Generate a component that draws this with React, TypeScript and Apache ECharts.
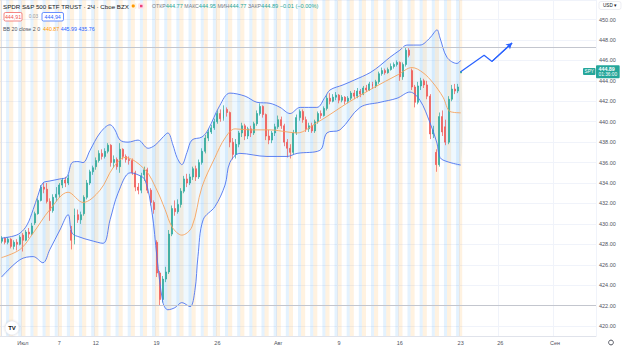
import React, { useEffect, useRef } from "react";
import * as echarts from "echarts";

// ---- data (2-hour bars, 4 per session day) ----
// [open, close, low, high]
const candles: number[][] = [
  [428.3, 428.6, 428.1, 428.8], [428.6, 428.2, 428.0, 428.7], [428.2, 428.5, 428.0, 428.7],
  [428.5, 427.8, 427.6, 428.6], [427.8, 428.2, 427.5, 428.4], [428.2, 428.0, 427.4, 428.5], [428.0, 428.7, 427.9, 428.9],
  [428.9, 428.4, 427.3, 429.1], [428.4, 429.2, 428.3, 429.4], [429.2, 429.0, 428.6, 429.6], [429.0, 429.8, 428.9, 430.1],
  [430.1, 431.0, 429.9, 431.2], [431.0, 432.3, 430.9, 432.5], [432.3, 433.6, 432.2, 433.8], [433.6, 433.4, 433.0, 434.0],
  [433.4, 432.2, 432.0, 434.0], [432.2, 431.3, 430.3, 432.5], [431.3, 432.6, 431.1, 432.9], [432.6, 432.9, 432.2, 433.6],
  [432.9, 433.8, 432.6, 434.0], [433.8, 434.3, 433.5, 434.5], [434.3, 434.0, 433.6, 434.6], [434.0, 434.5, 433.8, 434.8],
  [429.4, 428.4, 427.5, 429.8], [428.4, 430.9, 428.0, 431.5], [430.9, 430.4, 430.1, 431.4], [430.4, 430.9, 430.0, 431.2],
  [431.0, 432.6, 430.8, 432.8], [432.6, 434.0, 432.4, 434.3], [434.0, 435.1, 433.8, 435.3], [435.1, 435.5, 434.8, 435.7],
  [435.6, 436.2, 435.3, 436.5], [436.2, 436.9, 436.0, 437.2], [436.9, 436.6, 436.3, 437.3], [436.6, 437.1, 436.4, 437.4],
  [437.1, 437.7, 436.9, 437.9], [437.7, 436.0, 435.6, 437.8], [436.0, 436.3, 435.5, 436.7], [436.3, 435.6, 435.3, 436.5],
  [435.6, 437.3, 435.0, 437.9], [437.3, 436.6, 436.3, 437.4], [436.6, 436.3, 436.0, 436.8], [436.3, 436.2, 435.8, 436.6],
  [436.2, 435.0, 434.8, 436.4], [435.0, 433.6, 433.2, 435.2], [433.6, 433.3, 432.9, 434.0], [433.3, 434.7, 433.0, 435.0],
  [434.8, 435.3, 434.2, 435.6], [435.3, 433.3, 433.0, 435.5], [433.3, 432.1, 431.8, 433.5], [432.1, 431.4, 431.0, 432.3],
  [428.2, 425.2, 424.8, 428.4], [425.2, 422.6, 422.0, 425.4], [422.6, 424.6, 422.3, 424.9], [424.6, 425.3, 424.3, 425.8],
  [425.3, 429.0, 425.1, 429.4], [429.0, 431.5, 428.8, 431.8], [431.5, 431.2, 430.8, 432.3], [431.2, 431.9, 431.0, 432.4],
  [431.9, 433.2, 431.6, 433.5], [433.2, 434.4, 433.0, 434.7], [434.4, 434.0, 433.6, 434.9], [434.0, 434.6, 433.8, 434.9],
  [434.6, 435.4, 434.3, 435.6], [435.4, 434.6, 434.2, 435.7], [434.6, 436.0, 434.4, 436.3], [436.0, 437.1, 435.8, 437.4],
  [437.1, 438.4, 436.9, 438.7], [438.4, 439.0, 438.1, 439.3], [439.0, 439.4, 438.8, 439.7], [439.4, 440.0, 439.2, 440.3],
  [440.0, 440.8, 439.8, 441.1], [440.8, 440.3, 440.0, 441.2], [440.3, 441.2, 440.1, 441.6], [441.2, 440.9, 440.5, 441.4],
  [440.9, 438.0, 437.5, 441.0], [438.0, 436.8, 436.3, 438.4], [436.8, 437.8, 436.4, 438.3], [437.8, 438.9, 437.5, 439.1],
  [438.9, 439.6, 438.5, 439.9], [439.6, 438.6, 438.2, 439.8], [438.6, 439.3, 438.3, 439.5], [439.3, 438.9, 438.5, 439.6],
  [438.9, 439.8, 438.7, 440.0], [439.8, 440.8, 439.6, 441.1], [440.8, 441.5, 440.6, 441.8], [441.5, 440.7, 440.4, 441.6],
  [440.7, 438.6, 438.2, 440.8], [438.6, 438.2, 437.8, 439.2], [438.2, 438.9, 437.9, 439.1], [438.9, 439.5, 438.6, 439.8],
  [439.5, 440.2, 439.3, 440.6], [440.2, 439.6, 439.3, 440.5], [439.6, 438.0, 437.6, 439.8], [438.0, 437.4, 436.5, 438.3],
  [437.4, 437.0, 436.4, 437.8], [437.0, 438.9, 436.8, 439.2], [438.9, 440.4, 438.7, 440.7], [440.4, 441.0, 440.1, 441.2],
  [441.0, 440.2, 439.9, 441.2], [440.2, 439.3, 439.0, 440.5], [439.3, 439.6, 439.0, 439.9], [439.6, 439.1, 438.9, 439.9],
  [439.1, 440.0, 438.9, 440.2], [440.0, 440.8, 439.8, 441.0], [440.8, 440.6, 440.3, 441.1], [440.6, 441.3, 440.5, 441.5],
  [441.3, 442.3, 441.1, 442.6], [442.3, 442.0, 441.7, 442.8], [442.0, 442.4, 441.9, 442.7], [442.4, 442.6, 442.1, 442.9],
  [442.6, 442.1, 441.8, 442.7], [442.1, 442.4, 441.9, 442.6], [442.4, 442.0, 441.7, 442.5], [442.0, 442.3, 441.8, 442.5],
  [442.3, 442.8, 442.1, 443.0], [442.8, 442.5, 442.2, 443.1], [442.5, 443.0, 442.3, 443.3], [443.0, 442.7, 442.4, 443.2],
  [442.7, 443.3, 442.6, 443.5], [443.3, 443.1, 442.9, 443.6], [443.1, 443.7, 443.0, 443.9], [443.7, 443.5, 443.2, 443.9],
  [443.5, 443.9, 443.3, 444.1], [443.9, 444.7, 443.7, 444.9], [444.7, 445.0, 444.5, 445.3], [445.0, 444.8, 444.6, 445.2],
  [444.8, 445.1, 444.7, 445.3], [445.1, 445.4, 445.0, 445.7], [445.4, 445.6, 445.2, 445.8], [445.6, 445.8, 445.4, 446.0],
  [445.8, 444.4, 444.0, 445.9], [444.4, 445.6, 444.1, 445.8], [445.6, 447.0, 445.4, 447.3], [447.0, 446.5, 446.3, 447.2],
  [445.0, 443.4, 443.1, 445.2], [443.4, 441.9, 441.4, 443.6], [441.9, 443.5, 441.7, 443.9], [443.5, 444.0, 443.1, 444.3],
  [444.0, 443.6, 443.3, 444.2], [443.6, 442.5, 442.2, 444.0], [442.5, 438.8, 438.3, 442.7], [438.8, 439.2, 438.4, 439.6],
  [437.0, 435.8, 435.1, 437.3], [435.8, 440.5, 435.6, 440.9], [440.5, 439.0, 438.6, 441.1], [439.5, 438.0, 437.7, 440.2],
  [438.0, 442.2, 437.8, 442.5], [442.2, 443.2, 442.0, 443.6], [443.2, 443.0, 442.7, 443.7], [443.0, 443.4, 442.8, 443.7],
  [444.77, 444.89, 444.77, 444.95],
];

// Bollinger Bands (20, close, 2): [bar index, price]
const bbUpper: number[][] = [
  [0, 428.6], [3.8, 428.8], [6.1, 429.1], [8.4, 429.9], [10.4, 431.4], [12.0, 432.8], [13.6, 434.0], [15.9, 434.2],
  [19.2, 434.4], [21.5, 434.6], [23.2, 436.0], [25.1, 436.1], [26.8, 436.0], [29.1, 437.2], [32.4, 438.9], [35.7, 439.7],
  [37.3, 439.2], [39, 438.2], [41.6, 438.0], [44.9, 438.2], [48.2, 437.4], [50.5, 437.7], [52.8, 438.4], [54.7, 438.9],
  [56.4, 437.7], [57.7, 436.5], [59.3, 435.8], [61, 437.0], [62.6, 438.2], [65.9, 438.5], [67.9, 439.2], [71.8, 441.6],
  [75.1, 442.8], [80.1, 442.5], [84, 441.9], [88.3, 441.8], [91.6, 441.4], [94.9, 440.8], [98.2, 441.4], [103.7, 441.4],
  [106.4, 442.4], [108, 443.1], [112.3, 443.6], [116.2, 444.1], [121.2, 444.8], [124.5, 445.5], [127.7, 446.3],
  [131, 447.0], [133.3, 447.5], [137.6, 447.5], [140.9, 448.2], [142.2, 448.7], [143.2, 449.0], [144.2, 448.2],
  [146.5, 446.3], [149.8, 445.7], [151, 445.99],
];
const bbBasis: number[][] = [
  [0, 426.7], [6.1, 427.5], [10.4, 429.1], [15.9, 431.4], [21.9, 433.1], [26.8, 432.1], [32.4, 433.3], [36.7, 435.5],
  [40.6, 436.5], [47.2, 435.3], [51.1, 433.3], [53.8, 431.4], [56.1, 429.7], [59.3, 428.9], [62.6, 429.7], [65.9, 433.6],
  [70.2, 436.5], [73.5, 438.4], [76.8, 439.3], [81.7, 439.2], [88.3, 439.2], [93.9, 439.0], [97.2, 438.9], [103.7, 439.9],
  [109, 440.9], [113.6, 441.8], [122.2, 443.3], [130.4, 444.6], [135, 445.3], [138.6, 444.8], [141.9, 443.8],
  [145.2, 442.4], [147.5, 441.0], [151, 440.87],
];
const bbLower: number[][] = [
  [0, 424.8], [6.1, 426.5], [10.4, 426.8], [13.6, 426.2], [15.9, 427.5], [19.2, 429.4], [21.9, 430.9], [23.2, 429.1],
  [25.8, 428.7], [29.1, 428.4], [33.4, 428.1], [35.7, 430.4], [38.3, 433.0], [42.3, 435.0], [44.9, 434.8], [47.2, 434.3],
  [49.5, 431.1], [51.1, 426.8], [53.1, 422.3], [54.7, 421.6], [57, 421.8], [59.3, 422.3], [62, 421.9], [63.6, 423.5],
  [64.6, 426.8], [66.3, 430.4], [70.2, 431.7], [73.5, 433.8], [75.1, 436.0], [78.4, 436.9], [87.3, 436.6], [93.9, 436.6],
  [97.2, 436.9], [104.7, 437.2], [107, 438.9], [111.3, 439.2], [117.9, 441.4], [124.5, 441.9], [130.1, 442.3],
  [134.3, 442.9], [137.6, 442.1], [140.9, 439.9], [143.2, 437.9], [144.2, 436.5], [146.5, 436.1], [151, 435.76],
];

// Drawn projection arrow: [bar index, price]
const projection: number[][] = [[151, 444.89], [158.7, 446.5], [161.3, 445.9], [167.9, 447.7]];

const xTickSlots = [7, 19, 31, 51, 71, 91, 111, 131, 151, 164, 182];
const xTickLabels = ["Июл", "7", "12", "19", "26", "Авг", "9", "16", "23", "26", "Сен"];

const lastPrice = 444.89;
const countdown = "01:36:00";

// ---- layout helpers ----
const SLOT_COUNT = 196;
const BARS_PER_DAY = 4;
const FIRST_DAY_START = -1;
const Y_MIN = 419.03;
const Y_MAX = 451.91;
const FONT = "Liberation Sans, Arial, sans-serif";

const slots = Array.from({ length: SLOT_COUNT }, (_, i) => String(i));
const lastBar = candles.length - 1;
const preStripes: number[][] = [];
const postStripes: number[][] = [];
for (let s = FIRST_DAY_START; s <= lastBar; s += BARS_PER_DAY) {
  preStripes.push([s - 0.5, Math.min(s + 0.86, lastBar + 0.5)]);
  if (s + 3 <= lastBar) postStripes.push([s + 2.5, s + 3.5]);
}
const hiVal = Math.max(...candles.map((c) => c[3]));
const loVal = Math.min(...candles.map((c) => c[2]));
const tickSet = new Set(xTickSlots);

const stripeSeries = (data: number[][], fill: string) => ({
  type: "custom",
  xAxisIndex: 1,
  yAxisIndex: 0,
  silent: true,
  z: 0,
  clip: true,
  encode: { x: [0, 1] },
  data,
  renderItem: (params: any, api: any) => {
    const cs = params.coordSys;
    const a = api.coord([api.value(0), Y_MAX]);
    const b = api.coord([api.value(1), Y_MAX]);
    const left = Math.max(a[0], cs.x);
    return {
      type: "rect",
      shape: { x: left, y: cs.y, width: Math.max(0, b[0] - left), height: cs.height },
      style: { fill },
    };
  },
});

const option: any = {
  animation: false,
  backgroundColor: "#ffffff",
  textStyle: { fontFamily: FONT },
  grid: { left: 0, right: 28, top: 0, bottom: 16 },
  xAxis: [
    {
      type: "category",
      data: slots,
      boundaryGap: true,
      axisLine: { show: true, lineStyle: { color: "#e0e3eb", width: 1 } },
      axisTick: { show: false },
      axisLabel: {
        interval: (i: number) => tickSet.has(i),
        formatter: (_v: string, i: number) => xTickLabels[xTickSlots.indexOf(i)] ?? "",
        color: "#50535e",
        fontSize: 5.5,
        margin: 4,
        fontFamily: FONT,
      },
      splitLine: { show: true, interval: (i: number) => tickSet.has(i), lineStyle: { color: "#f0f3fa", width: 1 } },
    },
    { type: "value", min: -0.5, max: SLOT_COUNT - 0.5, show: false },
  ],
  yAxis: {
    type: "value",
    position: "right",
    min: Y_MIN,
    max: Y_MAX,
    scale: true,
    splitNumber: 16,
    minInterval: 2,
    maxInterval: 2,
    axisLine: { show: true, lineStyle: { color: "#e0e3eb", width: 1 } },
    axisTick: { show: false },
    axisLabel: {
      color: "#50535e",
      fontSize: 5.5,
      margin: 3,
      showMinLabel: false,
      showMaxLabel: false,
      fontFamily: FONT,
      formatter: (v: number) => v.toFixed(2),
    },
    splitLine: { show: true, lineStyle: { color: "#f0f3fa", width: 1 } },
  },
  series: [
    stripeSeries(preStripes, "rgba(255,152,0,0.12)"),
    stripeSeries(postStripes, "rgba(33,150,243,0.12)"),
    {
      type: "custom",
      xAxisIndex: 1,
      yAxisIndex: 0,
      silent: true,
      z: 1,
      clip: true,
      encode: { x: 0 },
      data: [[0]],
      renderItem: (_p: any, api: any) => {
        const pts = bbUpper.map((d) => api.coord(d)).concat(bbLower.slice().reverse().map((d) => api.coord(d)));
        return { type: "polygon", shape: { points: pts, smooth: 0.35 }, style: { fill: "rgba(33,150,243,0.07)" } };
      },
    },
    {
      type: "candlestick",
      name: "SPY",
      xAxisIndex: 0,
      yAxisIndex: 0,
      z: 3,
      barWidth: "48%",
      data: candles,
      itemStyle: {
        color: "#26a69a",
        color0: "#ef5350",
        borderColor: "#26a69a",
        borderColor0: "#ef5350",
        borderWidth: 0.7,
      },
      markLine: {
        silent: true,
        symbol: ["none", "none"],
        animation: false,
        data: [
          { yAxis: hiVal, lineStyle: { color: "#c3c6ce", width: 1, type: "solid" }, label: { show: false } },
          { yAxis: loVal, lineStyle: { color: "#c3c6ce", width: 1, type: "solid" }, label: { show: false } },
          {
            yAxis: lastPrice,
            lineStyle: { color: "rgba(38,166,154,0)", width: 0 },
            label: {
              show: true,
              position: "end",
              distance: 0,
              formatter: `{a|${lastPrice.toFixed(2)}}\n{b|${countdown}}`,
              backgroundColor: "#26a69a",
              padding: [1, 2.5, 0.5, 2.5],
              borderRadius: 1,
              rich: {
                a: { color: "#fff", fontSize: 5.3, fontWeight: "bold", lineHeight: 6, fontFamily: FONT },
                b: { color: "#fff", fontSize: 4.8, lineHeight: 5.5, fontFamily: FONT },
              },
            },
          },
        ],
      },
    },
    {
      type: "line",
      name: "Upper",
      xAxisIndex: 1,
      yAxisIndex: 0,
      z: 4,
      data: bbUpper,
      smooth: 0.35,
      showSymbol: false,
      silent: true,
      lineStyle: { color: "#4d74f0", width: 0.9 },
    },
    {
      type: "line",
      name: "Basis",
      xAxisIndex: 1,
      yAxisIndex: 0,
      z: 4,
      data: bbBasis,
      smooth: 0.35,
      showSymbol: false,
      silent: true,
      lineStyle: { color: "#f7a35c", width: 0.9 },
    },
    {
      type: "line",
      name: "Lower",
      xAxisIndex: 1,
      yAxisIndex: 0,
      z: 4,
      data: bbLower,
      smooth: 0.35,
      showSymbol: false,
      silent: true,
      lineStyle: { color: "#4d74f0", width: 0.9 },
    },
    {
      type: "line",
      name: "Projection",
      xAxisIndex: 1,
      yAxisIndex: 0,
      z: 5,
      data: projection,
      showSymbol: false,
      silent: true,
      clip: false,
      lineStyle: { color: "#2962ff", width: 1.2 },
      markLine: {
        silent: true,
        animation: false,
        symbol: ["none", "arrow"],
        symbolSize: [5, 6],
        label: { show: false },
        lineStyle: { color: "#2962ff", width: 1.2, type: "solid" },
        data: [[{ coord: projection[projection.length - 2] }, { coord: projection[projection.length - 1] }]],
      },
    },
  ],
  graphic: [
    {
      type: "text",
      x: 3,
      y: 6,
      z: 100,
      style: { text: "SPDR S&P 500 ETF TRUST · 2Ч · Cboe BZX", fill: "#131722", fontSize: 6.2, fontFamily: FONT, verticalAlign: "middle" },
    },
    { type: "rect", z: 100, shape: { x: 130, y: 3, width: 6.5, height: 6, r: 1.5 }, style: { fill: "#fff3e0" } },
    { type: "circle", z: 101, shape: { cx: 133.25, cy: 6, r: 1.6 }, style: { fill: "#ff9800" } },
    { type: "rect", z: 100, shape: { x: 138, y: 3, width: 6.5, height: 6, r: 1.5 }, style: { fill: "#fce4ec" } },
    { type: "rect", z: 101, shape: { x: 140, y: 4.8, width: 2.5, height: 2.5 }, style: { fill: "#ec407a" } },
    {
      type: "text",
      x: 152,
      y: 6,
      z: 100,
      style: {
        text: "{l|ОТКР}{v|444.77} {l|МАКС}{v|444.95} {l|МИН}{v|444.77} {l|ЗАКР}{v|444.89} {v|−0.01 (−0.00%)}",
        fontSize: 5.6,
        fontFamily: FONT,
        verticalAlign: "middle",
        rich: {
          l: { fill: "#787b86", fontSize: 5.2, fontFamily: FONT },
          v: { fill: "#26a69a", fontSize: 5.6, fontFamily: FONT },
        },
      },
    },
    { type: "rect", z: 100, shape: { x: 4, y: 12.5, width: 18, height: 8.5, r: 1.5 }, style: { fill: "#fff", stroke: "#ef5350", lineWidth: 0.7 } },
    { type: "text", x: 13, y: 16.9, z: 101, style: { text: "444,91", fill: "#ef5350", fontSize: 5.3, fontFamily: FONT, align: "center", verticalAlign: "middle" } },
    { type: "text", x: 33.5, y: 16.9, z: 101, style: { text: "0.03", fill: "#9598a1", fontSize: 4.8, fontFamily: FONT, align: "center", verticalAlign: "middle" } },
    { type: "rect", z: 100, shape: { x: 42, y: 12.5, width: 21.5, height: 8.5, r: 1.5 }, style: { fill: "#fff", stroke: "#2962ff", lineWidth: 0.7 } },
    { type: "text", x: 52.7, y: 16.9, z: 101, style: { text: "444,94", fill: "#2962ff", fontSize: 5.3, fontFamily: FONT, align: "center", verticalAlign: "middle" } },
    {
      type: "text",
      x: 3,
      y: 29,
      z: 100,
      style: {
        text: "{t|BB 20 close 2 0}  {o|440.87} {b|445.99} {b|435.76}",
        fontSize: 5.3,
        fontFamily: FONT,
        verticalAlign: "middle",
        rich: {
          t: { fill: "#50535e", fontSize: 5.3, fontFamily: FONT },
          o: { fill: "#ff9800", fontSize: 5.3, fontFamily: FONT },
          b: { fill: "#2962ff", fontSize: 5.3, fontFamily: FONT },
        },
      },
    },
    { type: "rect", z: 100, shape: { x: 599, y: 1.5, width: 22, height: 8, r: 2 }, style: { fill: "#fff", stroke: "#e0e3eb", lineWidth: 0.6 } },
    { type: "text", x: 610, y: 5.6, z: 101, style: { text: "USD ▾", fill: "#131722", fontSize: 4.6, fontFamily: FONT, align: "center", verticalAlign: "middle" } },
    { type: "rect", z: 100, shape: { x: 583, y: 68, width: 12.5, height: 7, r: 1 }, style: { fill: "#26a69a" } },
    { type: "text", x: 589.2, y: 71.6, z: 101, style: { text: "SPY", fill: "#fff", fontSize: 4.6, fontFamily: FONT, align: "center", verticalAlign: "middle" } },
    {
      type: "circle",
      z: 100,
      shape: { cx: 12, cy: 328, r: 7 },
      style: { fill: "#fff", stroke: "#e0e3eb", lineWidth: 0.6, shadowBlur: 2, shadowColor: "rgba(0,0,0,0.15)" },
    },
    { type: "text", x: 12, y: 328.3, z: 101, style: { text: "TV", fill: "#131722", fontSize: 6, fontWeight: "bold", fontFamily: FONT, align: "center", verticalAlign: "middle" } },
    { type: "circle", z: 100, shape: { cx: 611, cy: 342.5, r: 2.4 }, style: { fill: "none", stroke: "#50535e", lineWidth: 1 } },
  ],
};

export default function App() {
  const ref = useRef<HTMLDivElement>(null);
  useEffect(() => {
    if (!ref.current) return;
    const chart = echarts.init(ref.current, null, { renderer: "svg" });
    chart.setOption(option);
    return () => chart.dispose();
  }, []);
  return (
    <div
      ref={ref}
      style={{ position: "fixed", left: 0, top: 0, width: 624, height: 352, background: "#fff" }}
    />
  );
}
